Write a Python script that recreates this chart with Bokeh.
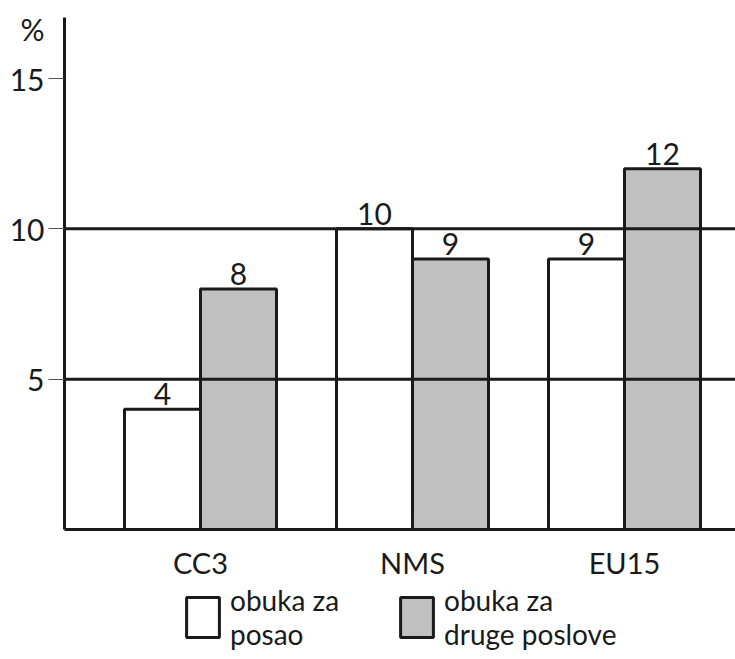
from bokeh.plotting import figure
from bokeh.layouts import column
from bokeh.models import (FixedTicker, Span, Legend, LegendItem, Range1d,
                          ColumnDataSource)
from bokeh.core.properties import value
from bokeh.embed import file_html
from bokeh.resources import INLINE

categories = ["CC3", "NMS", "EU15"]
obuka_posao = [4, 10, 9]
obuka_druge = [8, 9, 12]
series_names = ["obuka za\nposao", "obuka za\ndruge poslove"]
y_ticks = [5, 10, 15]
grid_values = [5, 10]
y_unit_label = "%"
y_unit_pos = 16.65

FONT = "Lato"
INK = "#1a1a1a"
GRAY = "#c0c0c0"

idx = list(range(len(categories)))
bw = 0.3585
x_white = [i - bw / 2 for i in idx]
x_gray = [i + bw / 2 for i in idx]

p = figure(width=735, height=590, output_backend="svg", toolbar_location=None,
           x_range=Range1d(-0.6415, 2.5236), y_range=Range1d(0, 17.03),
           min_border_left=64, min_border_right=0, min_border_top=17,
           min_border_bottom=61)
p.outline_line_color = None
p.xgrid.visible = False
p.ygrid.visible = False

src_w = ColumnDataSource(dict(x=x_white, top=obuka_posao, lab=[str(v) for v in obuka_posao]))
src_g = ColumnDataSource(dict(x=x_gray, top=obuka_druge, lab=[str(v) for v in obuka_druge]))

bar_w = dict(fill_color="white", line_color=INK, line_width=3)
bar_g = dict(fill_color=GRAY, line_color=INK, line_width=3)
p.vbar(x="x", top="top", bottom=0, width=bw, source=src_w, **bar_w)
p.vbar(x="x", top="top", bottom=0, width=bw, source=src_g, **bar_g)

for src in (src_w, src_g):
    p.text(x="x", y="top", text="lab", source=src, text_align="center",
           text_baseline="middle", y_offset=-15, text_color=INK,
           text_font=value(FONT), text_font_size="30px")

for g in grid_values:
    p.add_layout(Span(location=g, dimension="width", line_color=INK, line_width=3))

# y axis: ticks drawn as minor ticks so the "%" label gets no tick mark
all_ticks = y_ticks + [y_unit_pos]
p.yaxis.ticker = FixedTicker(ticks=all_ticks, minor_ticks=y_ticks)
p.yaxis.major_label_overrides = {y_unit_pos: y_unit_label}
p.yaxis.axis_line_width = 3
p.yaxis.axis_line_color = INK
p.yaxis.major_tick_in = 0
p.yaxis.major_tick_out = 16
p.yaxis.major_tick_line_color = None
p.yaxis.minor_tick_in = 0
p.yaxis.minor_tick_out = 16
p.yaxis.minor_tick_line_color = "#555555"
p.yaxis.minor_tick_line_width = 1
p.yaxis.major_label_standoff = 4
p.yaxis.major_label_text_font = FONT
p.yaxis.major_label_text_font_size = "30px"
p.yaxis.major_label_text_color = INK

# x axis
p.xaxis.ticker = FixedTicker(ticks=idx)
p.xaxis.major_label_overrides = {i: c for i, c in zip(idx, categories)}
p.xaxis.axis_line_width = 3
p.xaxis.axis_line_color = INK
p.xaxis.major_tick_line_color = None
p.xaxis.major_tick_in = 0
p.xaxis.major_tick_out = 0
p.xaxis.minor_tick_line_color = None
p.xaxis.major_label_standoff = 15
p.xaxis.major_label_text_font = FONT
p.xaxis.major_label_text_font_size = "29px"
p.xaxis.major_label_text_color = INK

# legend strip under the chart (hidden copies of the bar series supply the swatches)
q = figure(width=735, height=69, output_backend="svg", toolbar_location=None,
           x_range=Range1d(0, 1), y_range=Range1d(0, 1),
           x_axis_location=None, y_axis_location=None,
           min_border=0)
q.outline_line_color = None
q.xgrid.visible = False
q.ygrid.visible = False
lw = q.vbar(x="x", top="top", bottom=0, width=bw, source=src_w, visible=False, **bar_w)
lg = q.vbar(x="x", top="top", bottom=0, width=bw, source=src_g, visible=False, **bar_g)

legend = Legend(items=[LegendItem(label=series_names[0], renderers=[lw]),
                       LegendItem(label=series_names[1], renderers=[lg])],
                orientation="horizontal", location=(118, 8),
                glyph_width=41, glyph_height=50, label_standoff=7, spacing=57,
                padding=0, margin=0, border_line_color=None,
                background_fill_alpha=0, label_text_font=FONT,
                label_text_font_size="28px", label_text_color=INK,
                label_text_line_height=1.05)
q.add_layout(legend, "center")

open("out.html", "w").write(file_html(column(p, q, spacing=0), INLINE))
